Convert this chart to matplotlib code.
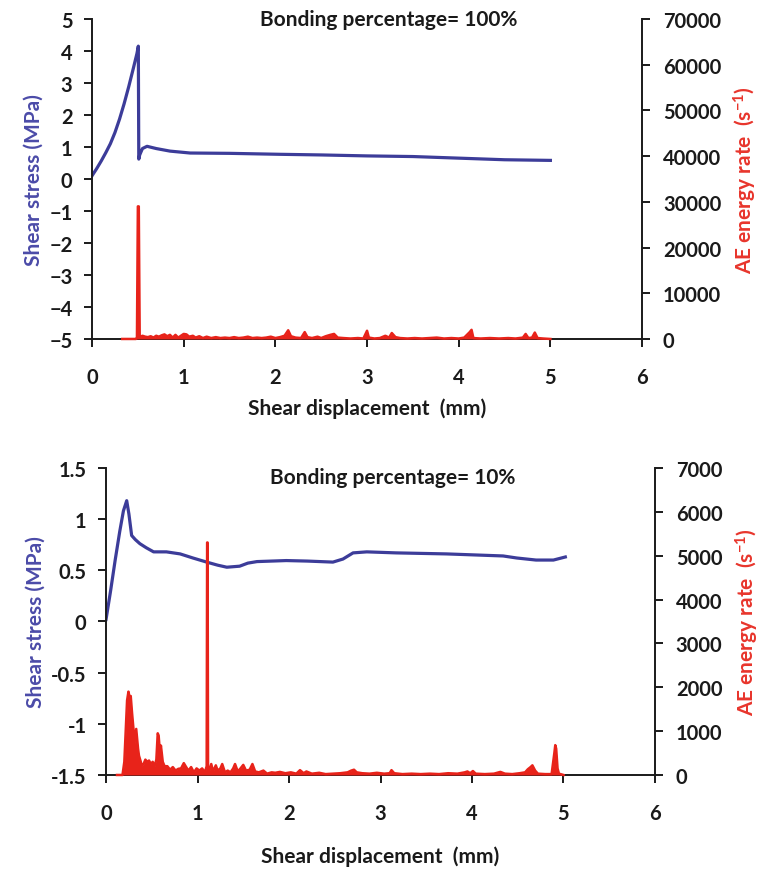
import numpy as np
import matplotlib
matplotlib.use('Agg')
import matplotlib.pyplot as plt

plt.rcParams['font.family'] = ['Lato', 'DejaVu Sans']
plt.rcParams['font.weight'] = 'bold'
plt.rcParams['axes.labelweight'] = 'bold'
plt.rcParams['mathtext.fontset'] = 'custom'
plt.rcParams['mathtext.rm'] = 'Lato:bold'
plt.rcParams['mathtext.bf'] = 'Lato:bold'
plt.rcParams['mathtext.default'] = 'bf'

# --- 100 % bonding: shear stress (MPa) vs displacement (mm)
top_disp = [0.0, 0.05, 0.10, 0.15, 0.20, 0.25, 0.30, 0.35, 0.40, 0.45,
            0.49, 0.505, 0.51, 0.52, 0.55, 0.60, 0.70, 0.85, 1.07, 1.5,
            2.05, 2.5, 3.0, 3.5, 4.0, 4.5, 5.0]
top_stress = [0.10, 0.32, 0.56, 0.82, 1.10, 1.45, 1.87, 2.35, 2.88, 3.45,
              3.92, 4.15, 0.62, 0.75, 0.95, 1.02, 0.95, 0.87, 0.81, 0.80,
              0.77, 0.75, 0.72, 0.70, 0.65, 0.60, 0.58]

# AE energy rate (1/s), 100 % bonding
top_ae_x = [0.33, 0.40, 0.48, 0.49, 0.50, 0.51, 0.52, 0.55, 0.58, 0.61,
            0.64, 0.67, 0.70, 0.73, 0.76, 0.79, 0.82, 0.85, 0.88, 0.91,
            0.94, 0.97, 1.00, 1.03, 1.06, 1.10, 1.13, 1.17, 1.21, 1.25,
            1.30, 1.35, 1.40, 1.45, 1.50, 1.55, 1.60, 1.65, 1.70, 1.75,
            1.80, 1.85, 1.90, 1.95, 2.00, 2.05, 2.10, 2.14, 2.17, 2.22,
            2.28, 2.32, 2.35, 2.40, 2.46, 2.50, 2.55, 2.60, 2.64, 2.68,
            2.74, 2.82, 2.90, 2.96, 3.00, 3.02, 3.08, 3.14, 3.20, 3.24,
            3.27, 3.31, 3.36, 3.44, 3.52, 3.60, 3.68, 3.76, 3.84, 3.92,
            4.00, 4.06, 4.09, 4.12, 4.14, 4.16, 4.24, 4.34, 4.44, 4.54,
            4.62, 4.70, 4.73, 4.76, 4.80, 4.83, 4.86, 4.92, 5.00]
top_ae = [0, 0, 0, 200, 29000, 29000, 400, 700, 500, 400,
          600, 300, 700, 500, 800, 1000, 600, 900, 300, 900,
          300, 700, 1100, 1000, 500, 700, 300, 600, 200, 500,
          200, 400, 200, 300, 200, 400, 200, 300, 500, 200,
          300, 200, 300, 500, 200, 400, 700, 1900, 600, 300,
          200, 1500, 400, 200, 500, 200, 600, 900, 1100, 300,
          200, 100, 200, 100, 1800, 300, 100, 200, 700, 300,
          1300, 400, 200, 100, 200, 100, 200, 300, 100, 200,
          100, 300, 900, 1500, 2000, 200, 100, 200, 100, 200,
          100, 300, 1100, 200, 300, 1400, 200, 100, 0]

# --- 10 % bonding
bot_disp = [0.0, 0.05, 0.10, 0.15, 0.19, 0.226, 0.25, 0.28, 0.32, 0.37,
            0.44, 0.52, 0.66, 0.81, 0.95, 1.10, 1.22, 1.32, 1.46, 1.55,
            1.65, 1.97, 2.20, 2.48, 2.59, 2.70, 2.85, 3.17, 3.72, 4.34,
            4.49, 4.70, 4.89, 5.02]
bot_stress = [0.02, 0.30, 0.60, 0.88, 1.08, 1.18, 1.05, 0.84, 0.80, 0.76,
              0.72, 0.68, 0.68, 0.66, 0.62, 0.58, 0.55, 0.53, 0.54, 0.57,
              0.585, 0.595, 0.59, 0.58, 0.61, 0.67, 0.68, 0.67, 0.66, 0.64,
              0.62, 0.60, 0.60, 0.63]

bot_ae_x = [0.12, 0.18, 0.20, 0.22, 0.23, 0.245, 0.26, 0.27, 0.285, 0.30,
            0.31, 0.33, 0.35, 0.36, 0.38, 0.39, 0.41, 0.43, 0.45, 0.47,
            0.49, 0.51, 0.53, 0.55, 0.565, 0.575, 0.59, 0.60, 0.62, 0.64,
            0.67, 0.70, 0.73, 0.76, 0.79, 0.82, 0.85, 0.87, 0.90, 0.93,
            0.96, 0.99, 1.02, 1.05, 1.08, 1.10, 1.105, 1.11, 1.115, 1.13,
            1.15, 1.17, 1.20, 1.22, 1.25, 1.27, 1.30, 1.33, 1.36, 1.39,
            1.41, 1.44, 1.47, 1.50, 1.53, 1.57, 1.60, 1.63, 1.67, 1.72,
            1.76, 1.81, 1.85, 1.90, 1.96, 2.02, 2.08, 2.12, 2.16, 2.19,
            2.25, 2.33, 2.40, 2.48, 2.56, 2.64, 2.68, 2.71, 2.74, 2.80,
            2.88, 2.96, 3.04, 3.10, 3.12, 3.15, 3.24, 3.34, 3.44, 3.54,
            3.64, 3.74, 3.84, 3.92, 3.95, 3.98, 4.01, 4.04, 4.14, 4.24,
            4.31, 4.36, 4.44, 4.52, 4.58, 4.61, 4.64, 4.66, 4.69, 4.72,
            4.80, 4.87, 4.90, 4.91, 4.92, 4.935, 4.95, 5.00]
bot_ae = [0, 0, 300, 1200, 1700, 1900, 1750, 1800, 1400, 1050,
          700, 1050, 600, 440, 300, 200, 250, 350, 300, 330,
          250, 300, 200, 350, 950, 900, 500, 670, 300, 200,
          200, 120, 180, 100, 140, 150, 270, 200, 100, 180,
          60, 150, 100, 150, 60, 200, 5300, 5300, 150, 100,
          250, 80, 220, 100, 150, 250, 60, 100, 60, 150,
          250, 80, 150, 230, 100, 120, 250, 80, 60, 100,
          30, 60, 50, 70, 40, 60, 30, 110, 40, 80,
          30, 50, 20, 30, 40, 60, 100, 120, 60, 40,
          30, 50, 30, 40, 110, 40, 20, 30, 20, 30,
          20, 40, 30, 60, 80, 40, 90, 30, 20, 30,
          70, 30, 20, 40, 60, 130, 180, 220, 100, 30,
          20, 20, 500, 680, 600, 150, 30, 0]

blue = '#3c3c99'
red = '#e8231a'
blue_lbl = '#4b4ba8'
red_lbl = '#e8352c'
ink = '#1a1a1a'
fs_lbl = 15
fs_tick = 14.5


def style_axes(ax, ax2):
    for s in ['top', 'right']:
        ax.spines[s].set_visible(False)
    for s in ['top', 'left', 'bottom']:
        ax2.spines[s].set_visible(False)
    for sp in [ax.spines['left'], ax.spines['bottom'], ax2.spines['right']]:
        sp.set_linewidth(1.4)
        sp.set_color(ink)
    ax.tick_params(axis='y', direction='out', length=6, width=1.4, pad=8,
                   labelsize=fs_tick, colors=ink)
    ax.tick_params(axis='x', direction='out', length=6, width=1.4, pad=14,
                   labelsize=fs_tick, colors=ink)
    ax2.tick_params(axis='y', direction='out', length=6, width=1.4, pad=9,
                    labelsize=fs_tick, colors=ink)


fig = plt.figure(figsize=(7.65, 8.78), dpi=100)

# top panel
ax1 = fig.add_axes([0.1203, 0.6128, 0.719, 0.3645])
ax1b = ax1.twinx()
ax1.plot(top_disp, top_stress, color=blue, lw=2.3, solid_joinstyle='round')
ax1b.fill_between(top_ae_x, top_ae, 0, color=red, lw=0, clip_on=False)
ax1b.plot(top_ae_x, top_ae, color=red, lw=1.8, clip_on=False)
ax1.set_xlim(0, 6)
ax1.set_ylim(-5, 5)
ax1.set_yticks(np.arange(-5, 6, 1))
ax1b.set_ylim(0, 70000)
ax1b.set_yticks(np.arange(0, 70001, 10000))
style_axes(ax1, ax1b)
ax1.set_xlabel('Shear displacement  (mm)', fontsize=fs_lbl, color=ink, labelpad=8)
ax1.set_ylabel('Shear stress (MPa)', fontsize=fs_lbl, color=blue_lbl, labelpad=4)
ax1b.set_ylabel('AE energy rate  (s$^{-1}$)', fontsize=fs_lbl, color=red_lbl, labelpad=8)
ax1.text(0.54, 1.0, 'Bonding percentage= 100%', transform=ax1.transAxes,
         ha='center', va='center', fontsize=fs_lbl, color=ink)

# bottom panel
ax2 = fig.add_axes([0.1386, 0.1162, 0.7176, 0.3497])
ax2b = ax2.twinx()
ax2.plot(bot_disp, bot_stress, color=blue, lw=2.3, solid_joinstyle='round')
ax2b.fill_between(bot_ae_x, bot_ae, 0, color=red, lw=0, clip_on=False)
ax2b.plot(bot_ae_x, bot_ae, color=red, lw=1.8, clip_on=False)
ax2.set_xlim(0, 6)
ax2.set_ylim(-1.5, 1.5)
ax2.set_yticks([-1.5, -1, -0.5, 0, 0.5, 1, 1.5])
ax2.set_yticklabels(['-1.5', '-1', '-0.5', '0', '0.5', '1', '1.5'])
ax2b.set_ylim(0, 7000)
ax2b.set_yticks(np.arange(0, 7001, 1000))
style_axes(ax2, ax2b)
ax2.set_xlabel('Shear displacement  (mm)', fontsize=fs_lbl, color=ink, labelpad=16)
ax2.set_ylabel('Shear stress (MPa)', fontsize=fs_lbl, color=blue_lbl, labelpad=4)
ax2b.set_ylabel('AE energy rate  (s$^{-1}$)', fontsize=fs_lbl, color=red_lbl, labelpad=8)
ax2.text(0.523, 0.97, 'Bonding percentage= 10%', transform=ax2.transAxes,
         ha='center', va='center', fontsize=fs_lbl, color=ink)

fig.savefig('out.png', dpi=100)
